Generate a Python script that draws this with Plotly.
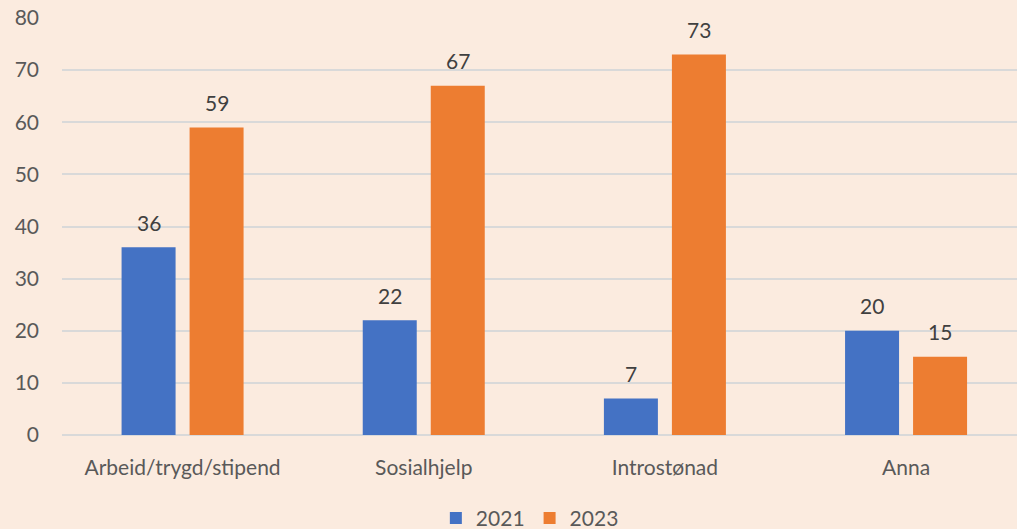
import plotly.graph_objects as go

categories = ["Arbeid/trygd/stipend", "Sosialhjelp", "Introstønad", "Anna"]
series_names = ["2021", "2023"]
values_2021 = [36, 22, 7, 20]
values_2023 = [59, 67, 73, 15]
y_ticks = [0, 10, 20, 30, 40, 50, 60, 70, 80]

colors = ["#4472C4", "#ED7D31"]
font_family = "Lato, Open Sans, sans-serif"
FS = 21

fig = go.Figure()
for name, vals, col in zip(series_names, [values_2021, values_2023], colors):
    fig.add_trace(go.Bar(x=categories, y=vals, name=name, marker_color=col,
                         marker_line_width=0))

annotations = []
for vals, shift in zip([values_2021, values_2023], [-34, 34]):
    for c, v in zip(categories, vals):
        annotations.append(dict(x=c, y=v, xref="x", yref="y", text=str(v),
                                showarrow=False, xshift=shift, yshift=25,
                                yanchor="middle",
                                font=dict(family=font_family, size=FS, color="#404040")))

fig.update_layout(
    width=1017, height=529,
    margin=dict(l=62, r=0, t=18, b=94, autoexpand=False),
    paper_bgcolor="#FBEBDF", plot_bgcolor="#FBEBDF",
    barmode="group", bargap=0.436, bargroupgap=0.206,
    font=dict(family=font_family, size=FS, color="#595959"),
    showlegend=True,
    legend=dict(orientation="h", x=0.521, xanchor="center", xref="container",
                y=0.02, yanchor="middle", yref="container",
                font=dict(size=FS, color="#595959"), itemwidth=30,
                bgcolor="rgba(0,0,0,0)"),
    annotations=annotations,
    xaxis=dict(range=[-0.5, 3.46], showgrid=False, showline=False, ticks="",
               ticklabelstandoff=18, tickfont=dict(size=FS, color="#595959")),
    yaxis=dict(range=[0, 80], tickvals=y_ticks, showgrid=True, gridcolor="#D9D9D9",
               gridwidth=1.5, zeroline=True, zerolinecolor="#D9D9D9", zerolinewidth=1.5,
               showline=False, ticks="", ticklabelstandoff=22,
               tickfont=dict(size=FS, color="#595959")),
)

fig.write_html("out.html", config={"displayModeBar": False},
               post_script="document.body.style.margin='0';document.body.style.background='#FBEBDF';")
